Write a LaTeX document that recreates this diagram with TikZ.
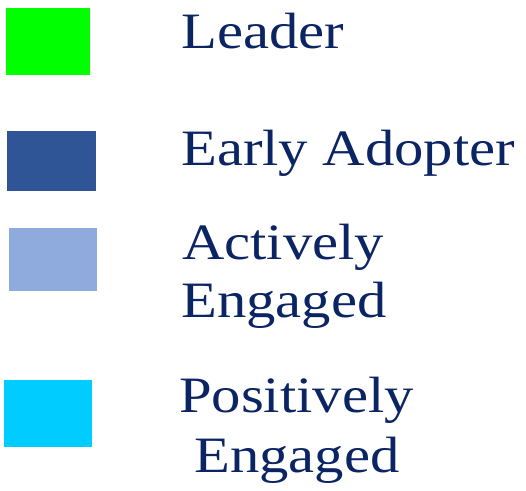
\documentclass[tikz,border=0pt]{standalone}
\usepackage{fontspec}
\setmainfont{Liberation Serif}[FakeStretch=1.15]
\definecolor{navy}{HTML}{0B2463}
\definecolor{cGreen}{HTML}{00FF00}
\definecolor{cDark}{HTML}{2F5597}
\definecolor{cLight}{HTML}{8FAADC}
\definecolor{cCyan}{HTML}{00CCFF}
\begin{document}
\begin{tikzpicture}[x=1pt,y=-1pt,
  lab/.style={anchor=base west,inner sep=0pt,text=navy,font=\fontsize{51}{57}\selectfont}]
\useasboundingbox (0,0) rectangle (526,490);
\fill[cGreen] (6,8) rectangle (90,75);
\fill[cDark] (7,131) rectangle (96,191);
\fill[cLight] (9,228) rectangle (97,291);
\fill[cCyan] (4,380) rectangle (92,447);
\node[lab] (l1) at (181,48) {Leader};
\node[lab] (l2) at (181,165) {Early Adopter};
\node[lab] (l3a) at (182,259) {Actively};
\node[lab] (l3b) at (181,317) {Engaged};
\node[lab] (l4a) at (179,412) {Positively};
\node[lab] (l4b) at (194,472) {Engaged};
\end{tikzpicture}
\end{document}
